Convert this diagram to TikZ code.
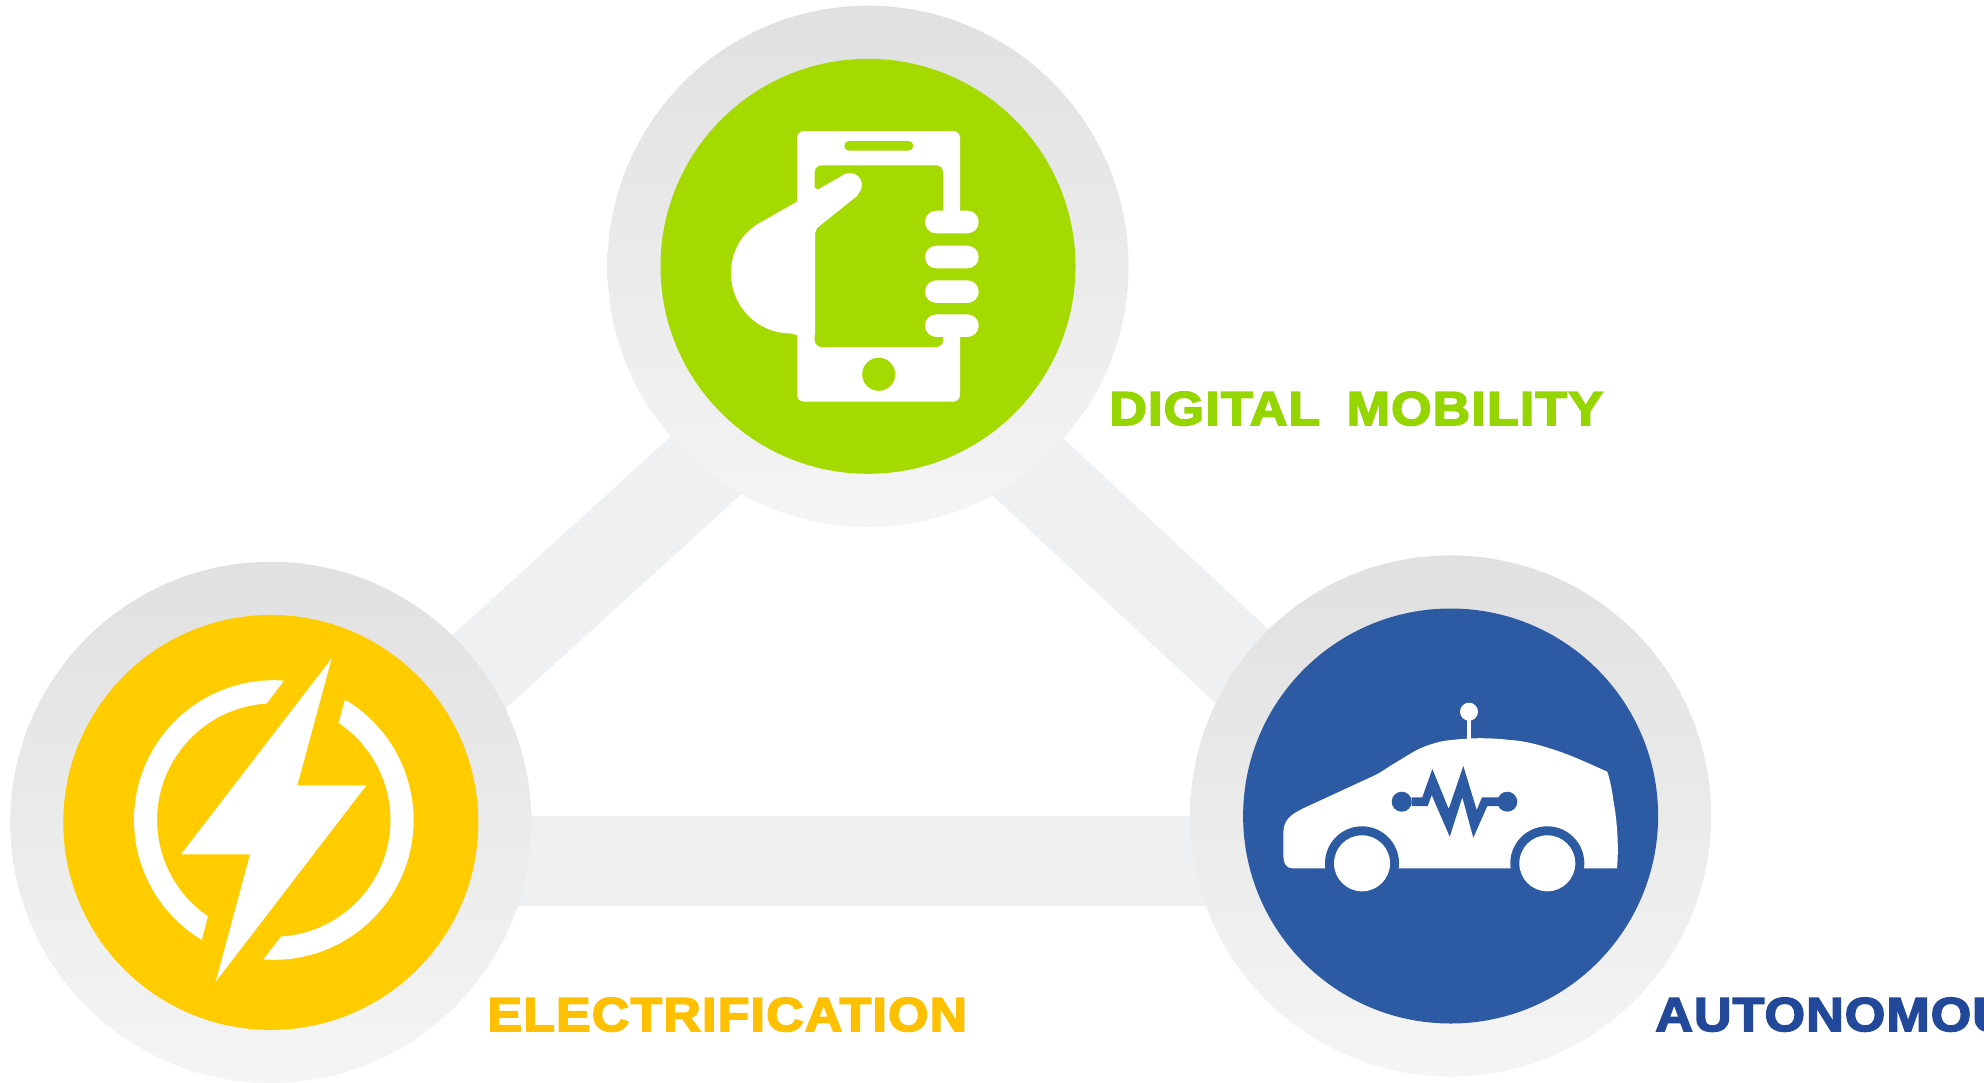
\documentclass[tikz,border=0pt]{standalone}
\usepackage{xcolor}
\usepackage{fontspec}
\usepackage{tikz}
\usetikzlibrary{positioning}

\newfontfamily\tagfont[FakeBold=3.5,FakeStretch=1.09,LetterSpace=2.5,WordSpace=1.7]{Liberation Sans Bold}
\definecolor{mobgreen}{HTML}{A4DA00}
\definecolor{evyellow}{HTML}{FFCC00}
\definecolor{carblue}{HTML}{2C5AA3}
\definecolor{mobtext}{HTML}{95D600}
\definecolor{evtext}{HTML}{FFC000}
\definecolor{cartext}{HTML}{224899}
\definecolor{bandgrey}{HTML}{EFF0F1}

\begin{document}
\begin{tikzpicture}[x=0.5pt, y=-0.5pt]
  \tikzstyle{band} = [draw=bandgrey, line width=45pt, line cap=butt]
  \tikzstyle{ring} = [circle, minimum size=260.6pt, inner sep=0pt, top color=black!12, bottom color=black!4]
  \tikzstyle{core} = [circle, minimum size=207.5pt, inner sep=0pt]
  \tikzstyle{tag} = [anchor=base west, inner sep=0pt, font=\tagfont\fontsize{23.8}{28}\selectfont]

  \useasboundingbox (0,0) rectangle (1984,1082);
  \clip (0,0) rectangle (1984,1082);

  % triangle behind the circles
  \coordinate (mobapex) at (868,318);
  \coordinate (evapex) at (271,861);
  \coordinate (carapex) at (1451,861);
  \draw [band] (evapex) -- (mobapex);
  \draw [band] (carapex) -- (mobapex);
  \draw [band] (evapex) -- (carapex);

  \node [ring] (mobring) at (868,266.3) {};
  \node [core, fill=mobgreen] (mobcore) at (mobring) {};
  \node [ring] (evring) at (270.8,822.4) {};
  \node [core, fill=evyellow] (evcore) at (evring) {};
  \node [ring] (carring) at (1450.6,816) {};
  \node [core, fill=carblue] (carcore) at (carring) {};

  \node [tag, text=mobtext] (mobtag) at (1109,425) {DIGITAL MOBILITY};
  \node [tag, text=evtext] (evtag) at (487,1031) {ELECTRIFICATION};
  \node [tag, text=cartext] (cartag) at (1655,1031) {AUTONOMOUS};

  % phone and hand
  \fill [white, rounded corners=3.5pt] (797,131) rectangle (960,401.7);
  \fill [mobgreen, rounded corners=2.4pt] (844.3,141) rectangle (913.3,150.7);
  \fill [mobgreen, rounded corners=3.5pt] (814.7,165.3) rectangle (943,347);
  \fill [mobgreen] (943,211) rectangle (961,336.7);
  \fill [mobgreen] (878.7,374.3) circle (16.5);
  \fill [white] (797,201.7) -- (761.7,221.7) .. controls (742,232) and (731,251) .. (731,273.3)
    .. controls (731,306) and (757,333.3) .. (790,333.3) -- (797,335) -- (815,335) -- (815,233)
    -- (817,228) -- (858.3,195) -- (845,174) -- (818.3,189.3) -- (814.7,188) -- cycle;
  \fill [white] (850,185) circle (12);
  \foreach \ya in {210.7,245.7,280.3,314.3}
    \fill [white, rounded corners=5.6pt] (925,\ya) rectangle ++(53.7,22.6);

  % bolt and its two arcs
  \fill [white] (331.7,658.3) -- (297.3,785.3) -- (366.3,785.3) -- (215.7,981.7) -- (250,854.3) -- (181,854.3) -- cycle;
  \begin{scope}[shift={(273.8,820)}]
    \fill [white] (-85.8:139.8) arc [start angle=-85.8, end angle=-239, radius=139.8]
      -- (-235.6:116.7) arc [start angle=-235.6, end angle=-93.5, radius=116.7] -- cycle;
    \fill [white] (-59.4:139.8) arc [start angle=-59.4, end angle=94.3, radius=139.8]
      -- (86.4:116.7) arc [start angle=86.4, end angle=-56.3, radius=116.7] -- cycle;
  \end{scope}

  % car
  \fill [white] (1469,711.7) circle (9);
  \fill [white] (1467,715) rectangle (1471.3,740);
  \fill [white] (1617,868.3) .. controls (1619,845) and (1617,820) .. (1613.3,800)
    .. controls (1612,790) and (1610,780) .. (1607.3,771.7)
    .. controls (1590,764) and (1575,757) .. (1560,751.7)
    .. controls (1543,746) and (1527,741) .. (1510,740)
    .. controls (1498,738.5) and (1486,738) .. (1473.3,738.3)
    .. controls (1462,739) and (1451,739.5) .. (1440,741.7)
    .. controls (1431,744) and (1424,746.5) .. (1416.7,750)
    .. controls (1408,755) and (1400,760) .. (1393.3,764)
    .. controls (1386,768.5) and (1380,773) .. (1373.3,776)
    -- (1303.3,808.3) .. controls (1290,815) and (1283.3,820) .. (1283.3,833.7)
    -- (1283.3,853.3) .. controls (1283.3,864) and (1286,868.3) .. (1293.3,868.3) -- cycle;
  \foreach \xa in {1362,1547.3} {
    \fill [carblue] (\xa,863.3) circle (37);
    \fill [white] (\xa,863.3) circle (28);
  }
  \fill [carblue] (1401.7,801.7) circle (10);
  \fill [carblue] (1507.3,801.7) circle (10);
  \fill [carblue] (1411.7,797.3) -- (1422.3,797.3) -- (1432.3,769) -- (1448.7,809) -- (1463.3,766)
    -- (1476.7,810) -- (1482,797.3) -- (1498.3,797.3) -- (1498.3,806) -- (1487.3,806) -- (1473.3,837.7)
    -- (1462.3,797.3) -- (1449.7,836.7) -- (1431.7,795) -- (1427.7,806) -- (1411.7,806) -- cycle;
\end{tikzpicture}
\end{document}
